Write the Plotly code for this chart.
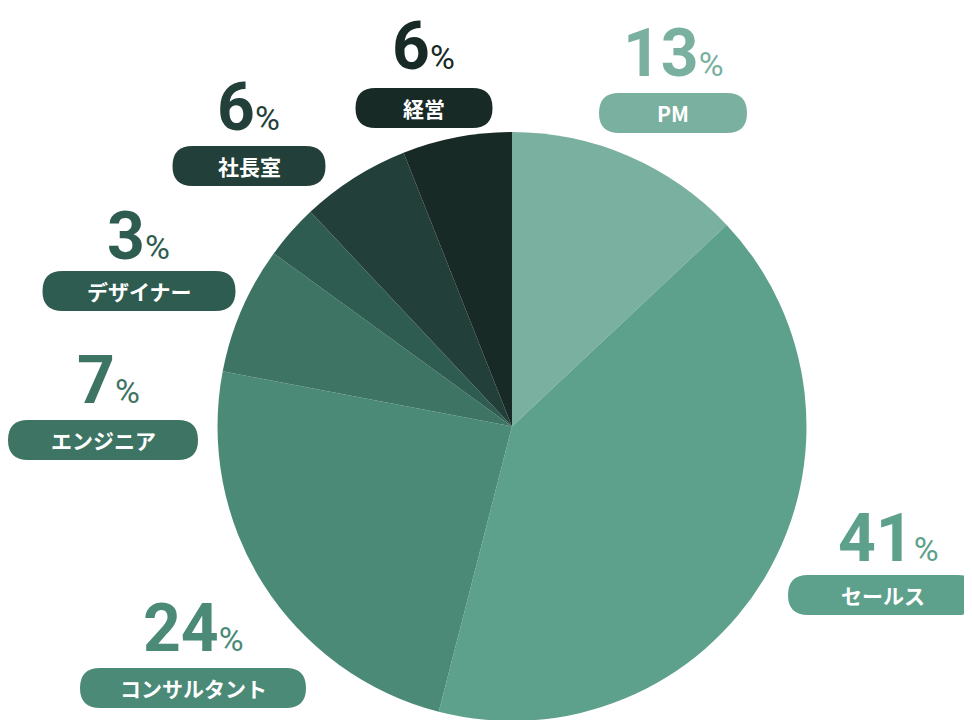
import plotly.graph_objects as go

# データ
labels = ['PM', 'セールス', 'コンサルタント', 'エンジニア', 'デザイナー', '社長室', '経営']
values = [13, 41, 24, 7, 3, 6, 6]
colors = ['#7ab0a0', '#5da18c', '#4c8a78', '#3d7463', '#2f5c50', '#233f39', '#182a25']

W, H = 972, 720

# ラベル位置 (ピクセル): 数値の中心, ピルの中心, ピルの幅
label_pos = [
    ((665, 45), (665, 105), 148),
    ((880, 530), (875, 587), 190),
    ((185, 620), (185, 680), 226),
    ((100, 372), (95, 432), 190),
    ((130, 228), (131, 283), 193),
    ((240, 100), (241, 158), 153),
    ((415, 38), (416, 100), 137),
]

fig = go.Figure()
fig.add_trace(go.Pie(
    labels=labels, values=values, sort=False, direction='clockwise', rotation=0,
    marker=dict(colors=colors, line=dict(width=0)),
    textinfo='none', hoverinfo='label+percent', showlegend=False,
    domain=dict(x=[209 / W, 799 / W], y=[7 / H, (H - 124) / H]),
))


def pill(cx, cy, w, h=40):
    # 角丸の四角形 (ピクセル → paper座標)
    r = h / 2
    x0, x1 = cx - w / 2, cx + w / 2
    y0, y1 = cy - h / 2, cy + h / 2
    px = lambda x: x / W
    py = lambda y: 1 - y / H
    return (f'M {px(x0 + r)} {py(y0)} L {px(x1 - r)} {py(y0)} '
            f'Q {px(x1)} {py(y0)} {px(x1)} {py(cy)} '
            f'Q {px(x1)} {py(y1)} {px(x1 - r)} {py(y1)} '
            f'L {px(x0 + r)} {py(y1)} '
            f'Q {px(x0)} {py(y1)} {px(x0)} {py(cy)} '
            f'Q {px(x0)} {py(y0)} {px(x0 + r)} {py(y0)} Z')


font = 'Noto Sans CJK JP'
for lab, val, col, (num, pc, w) in zip(labels, values, colors, label_pos):
    fig.add_shape(type='path', path=pill(pc[0], pc[1], w), xref='paper', yref='paper',
                  fillcolor=col, line=dict(width=0))
    fig.add_annotation(x=pc[0] / W, y=1 - pc[1] / H, xref='paper', yref='paper',
                       xanchor='center', yanchor='middle',
                       text=f'<b>{lab}</b>', showarrow=False,
                       font=dict(family=font, size=21, color='white'))
    fig.add_annotation(x=num[0] / W, y=1 - num[1] / H, xref='paper', yref='paper',
                       xanchor='center', yanchor='middle',
                       text=f"<b>{val}</b><span style='font-size:34px'>%</span>",
                       showarrow=False, font=dict(family='Roboto', size=66, color=col))

fig.update_layout(
    width=W, height=H, margin=dict(l=0, r=0, t=0, b=0),
    paper_bgcolor='white', plot_bgcolor='white',
)

fig.write_html('out.html')
